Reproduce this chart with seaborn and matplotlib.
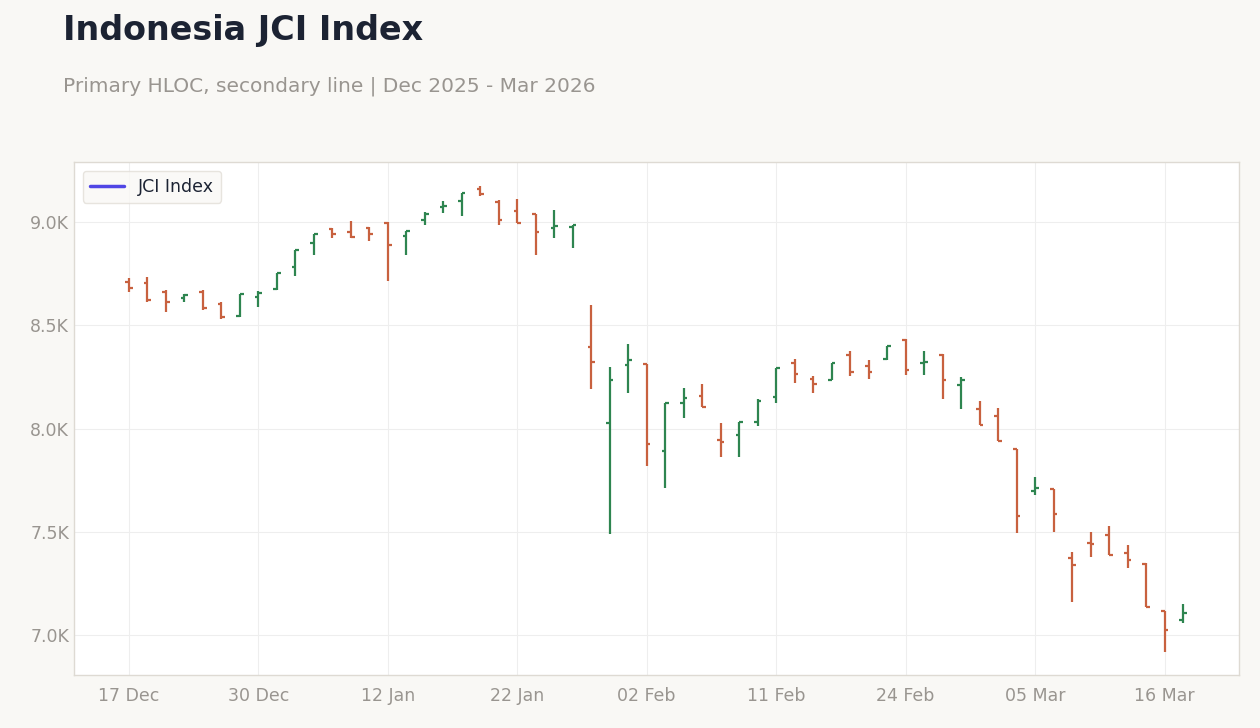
import matplotlib
matplotlib.use("Agg")
import matplotlib.pyplot as plt
import seaborn as sns
import pandas as pd
from matplotlib.lines import Line2D
from matplotlib.ticker import FuncFormatter

dates = ["17 Dec","18 Dec","19 Dec","22 Dec","23 Dec","24 Dec","29 Dec","30 Dec",
         "02 Jan","05 Jan","06 Jan","07 Jan","08 Jan","09 Jan","12 Jan","13 Jan","14 Jan","15 Jan",
         "19 Jan","20 Jan","21 Jan","22 Jan","23 Jan","26 Jan","27 Jan","28 Jan","29 Jan","30 Jan",
         "02 Feb","03 Feb","04 Feb","05 Feb","06 Feb","09 Feb","10 Feb","11 Feb","12 Feb","13 Feb",
         "18 Feb","19 Feb","20 Feb","23 Feb","24 Feb","25 Feb","26 Feb","27 Feb","02 Mar","03 Mar",
         "04 Mar","05 Mar","06 Mar","09 Mar","10 Mar","11 Mar","12 Mar","13 Mar","16 Mar","17 Mar"]
open_ = [8709,8705,8661,8632,8661,8603,8545,8637,8676,8782,8898,8966,8952,8971,8995,8932,9010,9073,
         9102,9160,9097,9053,9039,8971,8976,8395,8027,8307,8312,7891,8123,8157,7944,7968,8031,8152,
         8317,8240,8235,8356,8303,8337,8429,8317,8356,8211,8094,8060,7901,7697,7707,7373,7445,7484,
         7397,7344,7116,7072]
high = [8729,8734,8671,8651,8671,8613,8651,8666,8753,8864,8942,8971,9005,8976,9000,8956,9048,9102,
        9140,9174,9107,9111,9039,9058,8985,8598,8298,8409,8312,8123,8196,8215,8027,8031,8143,8293,
        8337,8254,8317,8375,8332,8399,8433,8375,8361,8249,8133,8099,7901,7765,7707,7402,7499,7528,
        7436,7349,7116,7150]
low = [8661,8613,8564,8613,8574,8530,8540,8588,8671,8738,8840,8923,8923,8908,8714,8840,8985,9044,
       9029,9126,8985,8995,8840,8923,8874,8191,7489,8172,7818,7712,8051,8104,7862,7862,8012,8123,
       8220,8172,8235,8254,8240,8332,8259,8259,8143,8094,8017,7939,7494,7678,7499,7160,7378,7387,
       7324,7135,6917,7058]
close = [8680,8622,8613,8646,8583,8540,8651,8656,8753,8864,8942,8942,8927,8942,8889,8956,9039,9077,
         9140,9136,9010,8995,8952,8981,8985,8322,8235,8332,7925,8123,8148,8104,7935,8031,8133,8293,
         8264,8215,8317,8274,8274,8399,8283,8322,8235,8235,8017,7939,7576,7712,7586,7339,7441,7387,
         7363,7135,7024,7106]

df = pd.DataFrame({"date": dates, "open": open_, "high": high, "low": low, "close": close})
df["i"] = range(len(df))

sns.set_theme(style="whitegrid")
plt.rcParams['font.family'] = ['DejaVu Sans']
fig = plt.figure(figsize=(12.6, 7.28), dpi=100, facecolor="#f9f8f5")
ax = fig.add_axes([0.0587, 0.0728, 0.9243, 0.7047])
ax.set_facecolor("white")

up, down = "#2e8550", "#c8613f"
for _, r in df.iterrows():
    c = up if r.close >= r.open else down
    ax.vlines(r.i, r.low, r.high, color=c, lw=1.6)
    ax.hlines(r.open, r.i - 0.2, r.i, color=c, lw=1.6)
    ax.hlines(r.close, r.i, r.i + 0.2, color=c, lw=1.6)

ax.set_xlim(-2.97, 60.0)
ax.set_ylim(6806, 9291)
ticks = list(range(0, len(dates), 7))
ax.set_xticks(ticks)
ax.set_xticklabels([dates[t] for t in ticks])
ax.set_yticks([7000, 7500, 8000, 8500, 9000])
ax.yaxis.set_major_formatter(FuncFormatter(lambda v, p: f"{v/1000:.1f}K"))
ax.tick_params(colors="#999590", labelsize=12.5, length=5, color="#cfcac2")
ax.tick_params(axis="y", length=0)
ax.grid(True, color="#eeeeee", lw=0.8)
for s in ax.spines.values():
    s.set_color("#dedad3")
    s.set_linewidth(1)
ax.set_xlabel(""); ax.set_ylabel("")

h = Line2D([0], [0], color="#5046e5", lw=2.5)
leg = ax.legend([h], ["JCI Index"], loc="upper left", fontsize=12.5, frameon=True,
                facecolor="#f9f8f5", edgecolor="#e2ded7", handlelength=2)
for t in leg.get_texts():
    t.set_color("#1c2333")

fig.text(0.05, 0.958, "Indonesia JCI Index", fontsize=24, fontweight="bold", color="#1c2333", va="center")
fig.text(0.05, 0.882, "Primary HLOC, secondary line | Dec 2025 - Mar 2026", fontsize=14.5,
         color="#999590", va="center")
fig.savefig("out.png", dpi=100, facecolor=fig.get_facecolor())
